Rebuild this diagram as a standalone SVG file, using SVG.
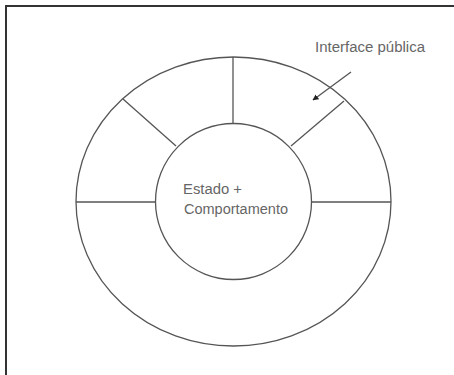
<svg xmlns="http://www.w3.org/2000/svg" width="454" height="375" viewBox="0 0 454 375">
<style>
.ln{fill:none;stroke:#555;stroke-width:1.3}
.tx{font-family:"Liberation Sans",Arial,sans-serif;font-size:14px;fill:#666}
</style>
<defs>
<marker id="ah" viewBox="0 0 10 10" refX="9" refY="5" markerWidth="6" markerHeight="6" orient="auto" markerUnits="userSpaceOnUse">
<path d="M0,0 L10,5 L0,10 z" fill="#222"/>
</marker>
</defs>
<rect width="454" height="375" fill="#fff"/>
<path d="M6,375 V6 H454" fill="none" stroke="#333" stroke-width="2"/>
<g id="outer">
<ellipse class="ln" cx="233.5" cy="201.5" rx="157.5" ry="144.5"/>
</g>
<g id="inner">
<circle class="ln" cx="233.5" cy="201.5" r="78"/>
<text class="tx" x="183" y="194" textLength="59" lengthAdjust="spacingAndGlyphs">Estado +</text>
<text class="tx" x="184" y="214" textLength="104" lengthAdjust="spacingAndGlyphs">Comportamento</text>
</g>
<g id="label">
<text class="tx" x="315" y="52" textLength="110" lengthAdjust="spacingAndGlyphs">Interface pública</text>
</g>
<g id="connectors">
<line class="ln" x1="76" y1="202" x2="155.5" y2="202"/>
<line class="ln" x1="311.5" y1="202" x2="391" y2="202"/>
<line class="ln" x1="233" y1="57" x2="233" y2="124"/>
<line class="ln" x1="123" y1="99" x2="176" y2="146"/>
<line class="ln" x1="344" y1="101" x2="291" y2="146"/>
<line class="ln" x1="351" y1="72" x2="313" y2="100" marker-end="url(#ah)"/>
</g>
</svg>
